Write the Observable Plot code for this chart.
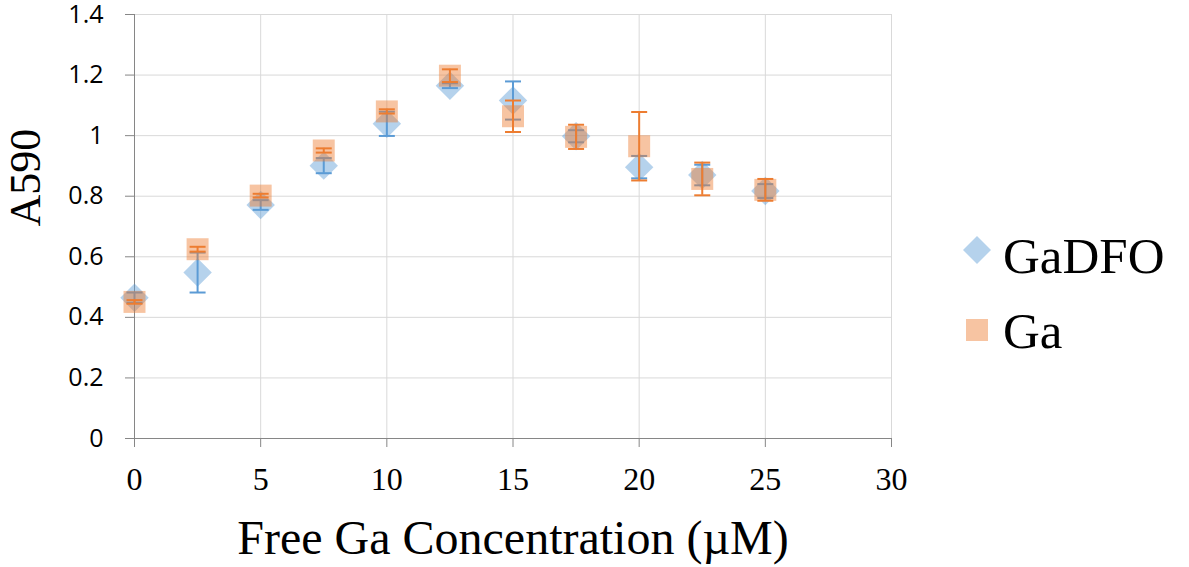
<!DOCTYPE html>
<html>
<head>
<meta charset="utf-8">
<script src="https://cdn.jsdelivr.net/npm/d3@7"></script>
<script src="https://cdn.jsdelivr.net/npm/@observablehq/plot@0.6"></script>
<style>
  html, body { margin: 0; padding: 0; background: #fff; }
  #wrap { position: relative; width: 1189px; height: 567px; }
  #legend { position: absolute; left: 0; top: 0; pointer-events: none; }
</style>
</head>
<body>
<div id="wrap"></div>
<script>
// ---- data ----
const conc = [0, 2.5, 5, 7.5, 10, 12.5, 15, 17.5, 20, 22.5, 25];
const gadfo = [0.465, 0.548, 0.771, 0.901, 1.039, 1.165, 1.116, 0.998, 0.896, 0.870, 0.817];
const gadfoErr = [0.017, 0.066, 0.016, 0.025, 0.040, 0.008, 0.063, 0.020, 0.037, 0.034, 0.023];
const ga = [0.451, 0.625, 0.802, 0.951, 1.080, 1.198, 1.064, 0.996, 0.965, 0.857, 0.821];
const gaErr = [0.006, 0.008, 0.006, 0.007, 0.007, 0.021, 0.052, 0.040, 0.113, 0.054, 0.036];
const xTicks = [0, 5, 10, 15, 20, 25, 30];
const yTicks = [0, 0.2, 0.4, 0.6, 0.8, 1, 1.2, 1.4];
const yTickLabels = ["0", "0.2", "0.4", "0.6", "0.8", "1", "1.2", "1.4"];
const seriesNames = ["GaDFO", "Ga"];
const xLabel = "Free Ga Concentration (\u00b5M)";
const yLabel = "A590";

const blue = "#5b9bd5", orange = "#ed7d31";

const rowsD = conc.map((x, i) => ({x, y: gadfo[i], lo: gadfo[i] - gadfoErr[i], hi: gadfo[i] + gadfoErr[i]}));
const rowsG = conc.map((x, i) => ({x, y: ga[i], lo: ga[i] - gaErr[i], hi: ga[i] + gaErr[i]}));

const capSymbol = { draw(ctx, size) { ctx.moveTo(-8, 0); ctx.lineTo(8, 0); } };
const serif = "'Liberation Serif', 'Times New Roman', serif";
const sans = "'Open Sans', 'Liberation Sans', sans-serif";

function errMarks(rows, color) {
  return [
    Plot.ruleX(rows, {x: "x", y1: "lo", y2: "hi", stroke: color, strokeWidth: 2}),
    Plot.dot(rows, {x: "x", y: "lo", symbol: capSymbol, r: 8, stroke: color, strokeWidth: 2, fill: "none"}),
    Plot.dot(rows, {x: "x", y: "hi", symbol: capSymbol, r: 8, stroke: color, strokeWidth: 2, fill: "none"})
  ];
}

const chart = Plot.plot({
  width: 1189,
  height: 567,
  marginLeft: 134,
  marginRight: 298,
  marginTop: 14,
  marginBottom: 129,
  style: {background: "#fff", overflow: "visible", fontFamily: serif},
  x: {domain: [0, 30]},
  y: {domain: [0, 1.4]},
  marks: [
    Plot.gridX(xTicks, {stroke: "#d9d9d9", strokeOpacity: 1}),
    Plot.gridY(yTicks, {stroke: "#d9d9d9", strokeOpacity: 1}),
    Plot.axisY(yTicks, {tickFormat: (d, i) => yTickLabels[i], tickSize: 9, tickPadding: 22,
      stroke: "#868686", fill: "#000", fontSize: 25, label: null}),
    Plot.axisX(xTicks, {tickFormat: d => String(d), tickSize: 9, tickPadding: 20,
      stroke: "#868686", fill: "#000", fontSize: 32, label: null}),
    Plot.ruleX([0], {stroke: "#868686", strokeWidth: 1}),
    Plot.ruleY([0], {stroke: "#868686", strokeWidth: 1}),
    Plot.dot(rowsD, {x: "x", y: "y", symbol: "diamond2", r: 12.8, fill: blue, fillOpacity: 0.45, stroke: "none"}),
    ...errMarks(rowsD, blue),
    Plot.dot(rowsG, {x: "x", y: "y", symbol: "square", r: 12.4, fill: orange, fillOpacity: 0.45, stroke: "none"}),
    ...errMarks(rowsG, orange),
    Plot.text([xLabel], {frameAnchor: "bottom", dy: 115, lineAnchor: "bottom", fontSize: 48, fill: "#000"}),
    Plot.text([yLabel], {frameAnchor: "left", dx: -95, rotate: -90, lineAnchor: "bottom", fontSize: 44, fill: "#000"})
  ]
});
// y tick labels in sans (Calibri-like)
d3.select(chart).selectAll("[aria-label*='y-axis'] text").style("font-family", sans);
document.getElementById("wrap").appendChild(chart);

// legend overlay
const lg = d3.select("#wrap").append("svg").attr("id", "legend").attr("width", 1189).attr("height", 567);
const items = [
  {name: seriesNames[0], color: blue, sym: d3.symbolDiamond2, size: Math.pow(14 / 0.62625, 2), cy: 250, by: 273},
  {name: seriesNames[1], color: orange, sym: d3.symbolSquare, size: 22 * 22, cy: 330, by: 348}
];
items.forEach(it => {
  lg.append("path").attr("d", d3.symbol(it.sym, it.size)()).attr("transform", `translate(977,${it.cy})`)
    .attr("fill", it.color).attr("fill-opacity", 0.45);
  lg.append("text").attr("x", 1003).attr("y", it.by).style("font-family", serif).attr("font-size", 51)
    .attr("fill", "#000").text(it.name);
});
</script>
</body>
</html>
